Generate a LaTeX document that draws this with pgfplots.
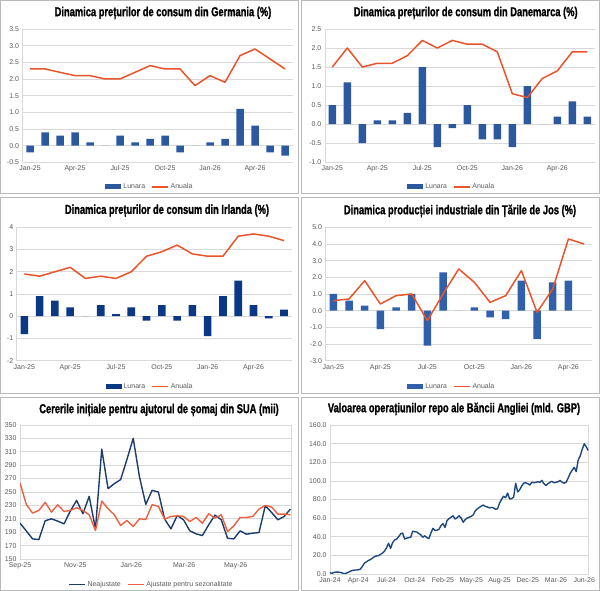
\documentclass[border=0pt]{standalone}
\usepackage{fontspec}
\setmainfont{Liberation Sans}
\newfontfamily\titlefont[FakeStretch=0.72, FakeBold=1.2]{Liberation Sans}
\usepackage{pgfplots}
\pgfplotsset{compat=1.18}
\usepackage{pgfplotstable}

\definecolor{barblue}{RGB}{44,88,160}
\definecolor{barnavy}{RGB}{10,56,132}
\definecolor{barblue4}{RGB}{48,96,170}
\definecolor{lineor}{RGB}{234,84,42}
\definecolor{clblue}{RGB}{27,60,108}
\definecolor{clred}{RGB}{236,96,64}
\definecolor{repoblue}{RGB}{30,72,128}
\definecolor{gridc}{RGB}{217,217,217}
\definecolor{ticktxt}{RGB}{89,89,89}
\definecolor{framec}{RGB}{185,185,185}

\pgfplotstableread{
v
1.5
0.6
1.8
2.0
2.0
1.8
1.2
0.2
0.8
1.8
2.8
3.8
4.2
4.3
4.5
5.2
8.0
11.5
13.0
14.4
15.5
17.0
18.5
19.5
19.6
21.0
22.5
24.5
28.0
33.0
27.5
33.5
36.5
37.5
40.0
43.0
44.0
37.5
38.5
39.0
39.5
46.0
45.5
45.0
43.5
42.0
39.5
41.0
39.0
38.0
44.0
49.0
46.8
47.0
48.0
52.0
54.0
50.0
57.5
59.5
61.0
62.5
59.0
60.5
62.5
60.0
55.5
58.5
60.0
61.0
62.0
63.5
68.0
70.0
71.5
73.0
74.0
72.5
72.0
71.0
71.5
71.0
69.5
70.0
76.0
80.0
83.5
82.0
87.0
80.5
81.0
82.5
97.5
88.0
90.5
94.5
97.5
98.0
97.0
95.5
98.5
98.0
98.5
99.0
98.5
100.5
97.0
95.0
97.0
98.5
99.5
98.0
98.5
99.0
100.5
98.5
97.5
98.5
103.0
108.0
111.5
114.5
110.0
122.5
127.0
134.0
139.8
136.5
132.5
}\repo

\pgfplotstableread{
nsa sa
203.5 263.5
192 231.5
180 218.5
179 222.5
207 234.5
210 220
206.5 231
202.5 221
221.5 222.5
237.5 226.5
217.5 222.5
243.5 216
195 192.5
314 236.5
255 225
262.5 216
268.5 200
298.5 207.5
330 198.5
272.5 210
231.5 209
252.5 231
250 228.5
209.5 209.5
195 213.5
215 214.5
208.5 213.5
192 206
187.5 212
185 203.5
201 217.5
215.5 211
208.5 216
181 191
180 199.5
192 212
187 212
188.5 213.5
189.5 224.5
229.5 230
219.5 227.5
208.5 217
213.5 217
224.5 216
}\claims

\pgfplotsset{
  base/.style={
    scale only axis,
    axis line style={draw=gridc, line width=0.6bp},
    ymajorgrids, grid style={draw=gridc, line width=0.6bp},
    major tick length=0pt,
    tick label style={font=\fontsize{7}{8}\selectfont, text=ticktxt},
    /pgf/number format/assume math mode=true,
    legend style={draw=none, fill=none, font=\fontsize{7}{8}\selectfont, text=ticktxt,
      legend columns=2, /tikz/every even column/.append style={column sep=4bp},
      inner sep=1bp},
  },
  panel/.style={base, axis x line*=bottom, axis y line*=left},
  boxpanel/.style={base},
  dec1/.style={yticklabel style={/pgf/number format/.cd, fixed, fixed zerofill, precision=1}},
  monthticks/.style={xtick={0,3,...,15}, xticklabels={Jan-25,Apr-25,Jul-25,Oct-25,Jan-26,Apr-26}},
}

\begin{document}
\begin{tikzpicture}[x=1bp,y=1bp]
\path[use as bounding box] (0,0) rectangle (600,591);
% frames
\draw[framec, line width=0.8bp] (0.5,397.5) rectangle (298.5,590.5);
\draw[framec, line width=0.8bp] (301.5,397.5) rectangle (599.5,590.5);
\draw[framec, line width=0.8bp] (0.5,197.5) rectangle (298.5,394);
\draw[framec, line width=0.8bp] (301.5,197.5) rectangle (599.5,394);
\draw[framec, line width=0.8bp] (0.5,0.5) rectangle (298.5,194);
\draw[framec, line width=0.8bp] (301.5,0.5) rectangle (599.5,194);

% Panel 1: Germania
\begin{axis}[panel, dec1, monthticks, at={(22.5bp,428.7bp)}, anchor=south west,
  width=270bp, height=133.3bp, xmin=-0.5, xmax=17.5, ymin=-0.5, ymax=3.5,
  ytick={-0.5,0,0.5,1,1.5,2,2.5,3,3.5},
  legend style={at={(0.472,-0.185)}, anchor=center}]
\addplot[ybar, bar width=0.5, fill=barblue, draw=none,
  legend image code/.code={\fill[barblue] (0bp,-2.5bp) rectangle (16bp,2.5bp);}]
  coordinates {(0,-0.2)(1,0.4)(2,0.3)(3,0.4)(4,0.1)(5,0)(6,0.3)(7,0.1)(8,0.2)(9,0.3)(10,-0.2)(11,0)(12,0.1)(13,0.2)(14,1.1)(15,0.6)(16,-0.2)(17,-0.3)};
\addlegendentry{Lunara}
\addplot[lineor, line width=1.5bp, line join=round, mark=none,
  legend image code/.code={\draw[lineor, line width=1.5bp] (0bp,0bp) -- (16bp,0bp);}]
  coordinates {(0,2.3)(1,2.3)(2,2.2)(3,2.1)(4,2.1)(5,2.0)(6,2.0)(7,2.2)(8,2.4)(9,2.3)(10,2.3)(11,1.8)(12,2.1)(13,1.9)(14,2.7)(15,2.9)(16,2.6)(17,2.3)};
\addlegendentry{Anuala}
\end{axis}

% Panel 2: Danemarca
\begin{axis}[panel, dec1, monthticks, at={(324.8bp,428.7bp)}, anchor=south west,
  width=270bp, height=133.3bp, xmin=-0.5, xmax=17.5, ymin=-1, ymax=2.5,
  ytick={-1,-0.5,0,0.5,1,1.5,2,2.5},
  legend style={at={(0.47,-0.185)}, anchor=center}]
\addplot[ybar, bar width=0.5, fill=barblue, draw=none,
  legend image code/.code={\fill[barblue] (0bp,-2.5bp) rectangle (16bp,2.5bp);}]
  coordinates {(0,0.5)(1,1.1)(2,-0.5)(3,0.1)(4,0.1)(5,0.3)(6,1.5)(7,-0.6)(8,-0.1)(9,0.5)(10,-0.4)(11,-0.4)(12,-0.6)(13,1.0)(14,0)(15,0.2)(16,0.6)(17,0.2)};
\addlegendentry{Lunara}
\addplot[lineor, line width=1.5bp, line join=round, mark=none,
  legend image code/.code={\draw[lineor, line width=1.5bp] (0bp,0bp) -- (16bp,0bp);}]
  coordinates {(0,1.5)(1,2.0)(2,1.5)(3,1.6)(4,1.6)(5,1.8)(6,2.2)(7,2.0)(8,2.2)(9,2.1)(10,2.1)(11,1.9)(12,0.8)(13,0.7)(14,1.2)(15,1.4)(16,1.9)(17,1.9)};
\addlegendentry{Anuala}
\end{axis}

% Panel 3: Irlanda
\begin{axis}[panel, monthticks, at={(16.7bp,230.3bp)}, anchor=south west,
  width=275bp, height=133.4bp, xmin=-0.5, xmax=17.5, ymin=-2, ymax=4,
  ytick={-2,-1,0,1,2,3,4},
  legend style={at={(0.485,-0.195)}, anchor=center}]
\addplot[ybar, bar width=0.5, fill=barnavy, draw=none,
  legend image code/.code={\fill[barnavy] (0bp,-2.5bp) rectangle (16bp,2.5bp);}]
  coordinates {(0,-0.8)(1,0.9)(2,0.7)(3,0.4)(4,0)(5,0.5)(6,0.1)(7,0.4)(8,-0.2)(9,0.5)(10,-0.2)(11,0.5)(12,-0.9)(13,0.9)(14,1.6)(15,0.5)(16,-0.1)(17,0.3)};
\addlegendentry{Lunara}
\addplot[lineor, line width=1.5bp, line join=round, mark=none,
  legend image code/.code={\draw[lineor, line width=1.5bp] (0bp,0bp) -- (16bp,0bp);}]
  coordinates {(0,1.9)(1,1.8)(2,2.0)(3,2.2)(4,1.7)(5,1.8)(6,1.7)(7,2.0)(8,2.7)(9,2.9)(10,3.2)(11,2.8)(12,2.7)(13,2.7)(14,3.6)(15,3.7)(16,3.6)(17,3.4)};
\addlegendentry{Anuala}
\end{axis}

% Panel 4: Tarile de Jos
\begin{axis}[panel, dec1, monthticks, at={(325.5bp,230.3bp)}, anchor=south west,
  width=266.4bp, height=133.4bp, xmin=-0.5, xmax=16.5, ymin=-3, ymax=5,
  ytick={-3,-2,-1,0,1,2,3,4,5},
  legend style={at={(0.474,-0.195)}, anchor=center}]
\addplot[ybar, bar width=0.48, fill=barblue4, draw=none,
  legend image code/.code={\fill[barblue4] (0bp,-2.5bp) rectangle (16bp,2.5bp);}]
  coordinates {(0,1.0)(1,0.6)(2,0.3)(3,-1.1)(4,0.2)(5,1.0)(6,-2.1)(7,2.3)(8,0)(9,0.2)(10,-0.4)(11,-0.5)(12,1.8)(13,-1.7)(14,1.7)(15,1.8)};
\addlegendentry{Lunara}
\addplot[lineor, line width=1.5bp, line join=round, mark=none,
  legend image code/.code={\draw[lineor, line width=1.5bp] (0bp,0bp) -- (16bp,0bp);}]
  coordinates {(0,0.6)(1,0.7)(2,1.8)(3,0.4)(4,0.9)(5,1.0)(6,-0.6)(7,1.0)(8,2.5)(9,1.7)(10,0.5)(11,0.9)(12,2.4)(13,-0.1)(14,1.3)(15,4.3)(16,4.0)};
\addlegendentry{Anuala}
\end{axis}

% Panel 5: SUA claims
\begin{axis}[boxpanel, at={(20bp,32bp)}, anchor=south west,
  width=271.7bp, height=134bp, xmin=0, xmax=43.2, ymin=150, ymax=350,
  ytick={150,170,...,350},
  xtick={0,8.8,17.7,26.1,34.3}, xticklabels={Sep-25,Nov-25,Jan-26,Mar-26,May-26},
  legend style={at={(0.483,-0.189)}, anchor=center}]
\addplot[clblue, line width=1.4bp, line join=round, mark=none,
  legend image code/.code={\draw[clblue, line width=1.5bp] (0bp,0bp) -- (16bp,0bp);}]
  table[x expr=\coordindex, y=nsa] {\claims};
\addlegendentry{Neajustate}
\addplot[clred, line width=1.4bp, line join=round, mark=none,
  legend image code/.code={\draw[clred, line width=1.5bp] (0bp,0bp) -- (16bp,0bp);}]
  table[x expr=\coordindex, y=sa] {\claims};
\addlegendentry{Ajustate pentru sezonalitate}
\end{axis}

% Panel 6: BoE repo
\begin{axis}[boxpanel, dec1, at={(330bp,17bp)}, anchor=south west,
  width=258.3bp, height=149bp, xmin=0, xmax=128, ymin=0, ymax=160,
  ytick={0,20,...,160},
  xtick={0,14,...,126}, xticklabels={Jan-24,Apr-24,Jul-24,Oct-24,Feb-25,May-25,Aug-25,Dec-25,Mar-26,Jun-26}]
\addplot[repoblue, line width=1.4bp, line join=round, mark=none]
  table[x expr=\coordindex, y=v] {\repo};
\end{axis}

% titles
\begin{scope}[every node/.style={font=\titlefont\bfseries\fontsize{13}{14}\selectfont, inner sep=0pt}]
\node at (163,578) {Dinamica prețurilor de consum din Germania (\%)};
\node at (465.7,578) {Dinamica prețurilor de consum din Danemarca (\%)};
\node at (167,380.3) {Dinamica prețurilor de consum din Irlanda (\%)};
\node at (460,380) {Dinamica producției industriale din Țările de Jos (\%)};
\node at (159,181) {Cererile inițiale pentru ajutorul de șomaj din SUA (mii)};
\node at (454,182) {Valoarea operațiunilor repo ale Băncii Angliei (mld. GBP)};
\end{scope}
\end{tikzpicture}
\end{document}
